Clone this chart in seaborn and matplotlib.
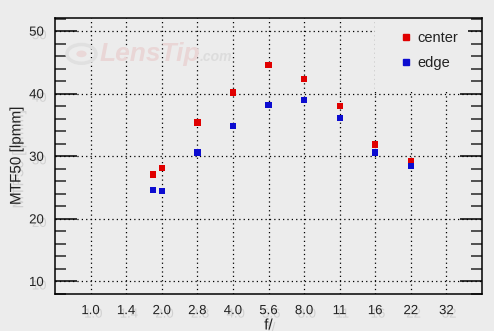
import matplotlib
matplotlib.use("Agg")
import matplotlib.pyplot as plt
import matplotlib.patheffects as pe
from matplotlib.patches import Rectangle, Circle
import seaborn as sns
import pandas as pd

# ---- data ----
f_stops = [1.83, 2.0, 2.83, 4.0, 5.66, 8.0, 11.31, 16.0, 22.63]
center = [27.1, 28.1, 35.4, 40.2, 44.6, 42.3, 38.0, 31.9, 29.2]
edge = [24.6, 24.4, 30.6, 34.8, 38.2, 39.0, 36.1, 30.6, 28.4]
tick_pos = [1.0, 1.414, 2.0, 2.828, 4.0, 5.657, 8.0, 11.31, 16.0, 22.63, 32.0]
tick_labels = ["1.0", "1.4", "2.0", "2.8", "4.0", "5.6", "8.0", "11", "16", "22", "32"]
y_ticks = [10, 20, 30, 40, 50]

df = pd.DataFrame({
    "f": f_stops * 2,
    "mtf": center + edge,
    "series": ["center"] * len(center) + ["edge"] * len(edge),
})

bg = "#ececec"
sns.set_theme(style="white")
plt.rcParams["font.family"] = ["Liberation Sans", "DejaVu Sans"]

fig = plt.figure(figsize=(4.94, 3.31), dpi=100, facecolor=bg)
ax = fig.add_axes([55 / 494, 1 - 294 / 331, 427 / 494, 276 / 331])
ax.set_facecolor(bg)

shadow = [pe.withSimplePatchShadow(offset=(2, -2.5), shadow_rgbFace="#a0a0a0", alpha=0.35)]

sns.scatterplot(data=df, x="f", y="mtf", hue="series",
                palette={"center": "#e00000", "edge": "#0c0cd0"},
                marker="s", s=20, linewidth=0, ax=ax, zorder=3, legend=False)

ax.set_xscale("log", base=2)
ax.set_xlim(0.707, 45.25)
ax.set_ylim(8, 52.1)
ax.set_xticks(tick_pos)
ax.set_xticklabels(tick_labels)
ax.minorticks_off()
ax.set_yticks(y_ticks)
ax.set_yticks([v for v in range(8, 53, 2) if v % 10 != 0], minor=True)

ax.grid(True, which="major", color="black", linestyle=(0, (1, 2.5)), linewidth=0.9)
ax.set_axisbelow(True)

ax.tick_params(axis="x", which="both", length=0, pad=8, labelsize=9.5, colors="#222222")
ax.tick_params(axis="y", which="major", direction="in", length=16, width=1.1,
               left=True, right=True, pad=8, labelsize=9.5, colors="black", labelcolor="#222222")
ax.tick_params(axis="y", which="minor", direction="in", length=8, width=1.1,
               left=True, right=True)

for lab in ax.get_xticklabels() + ax.get_yticklabels():
    lab.set_path_effects(shadow)

for sp in ax.spines.values():
    sp.set_color("black")
    sp.set_linewidth(1.1)

ax.set_xlabel("f/", fontsize=11, color="#222222", labelpad=1, path_effects=shadow)
ax.set_ylabel("MTF50 [lpmm]", fontsize=11, color="#222222", labelpad=4, path_effects=shadow)

# watermark
ax.text(0.105, 0.87, "LensTip", transform=ax.transAxes, fontsize=19, fontweight="bold",
        style="italic", color="#e9d6d6", zorder=0.6, va="center")
ax.text(0.34, 0.86, ".com", transform=ax.transAxes, fontsize=10, fontweight="bold",
        style="italic", color="#dcdcdc", zorder=0.6, va="center")
ax.add_patch(Circle((0.062, 0.87), 0.034, transform=ax.transAxes, fill=False,
                    edgecolor="#e0e0e0", linewidth=2.5, zorder=0.6))
ax.add_patch(Circle((0.062, 0.87), 0.012, transform=ax.transAxes,
                    facecolor="#ead8d8", edgecolor="none", zorder=0.6))

# legend area
ax.add_patch(Rectangle((0.749, 0.733), 0.218, 0.27, transform=ax.transAxes,
                       facecolor=bg, edgecolor="none", zorder=1))
handles = [plt.Line2D([], [], marker="s", linestyle="", color="#e00000", markersize=3.8),
           plt.Line2D([], [], marker="s", linestyle="", color="#0c0cd0", markersize=3.8)]
ax.legend(handles, ["center", "edge"], loc="upper left", bbox_to_anchor=(0.78, 1.0),
          frameon=False, fontsize=10.5, handlelength=0.6, handletextpad=0.5,
          labelspacing=0.75, borderpad=0.4, labelcolor="#222222")

fig.savefig("out.png", dpi=100, facecolor=bg)
